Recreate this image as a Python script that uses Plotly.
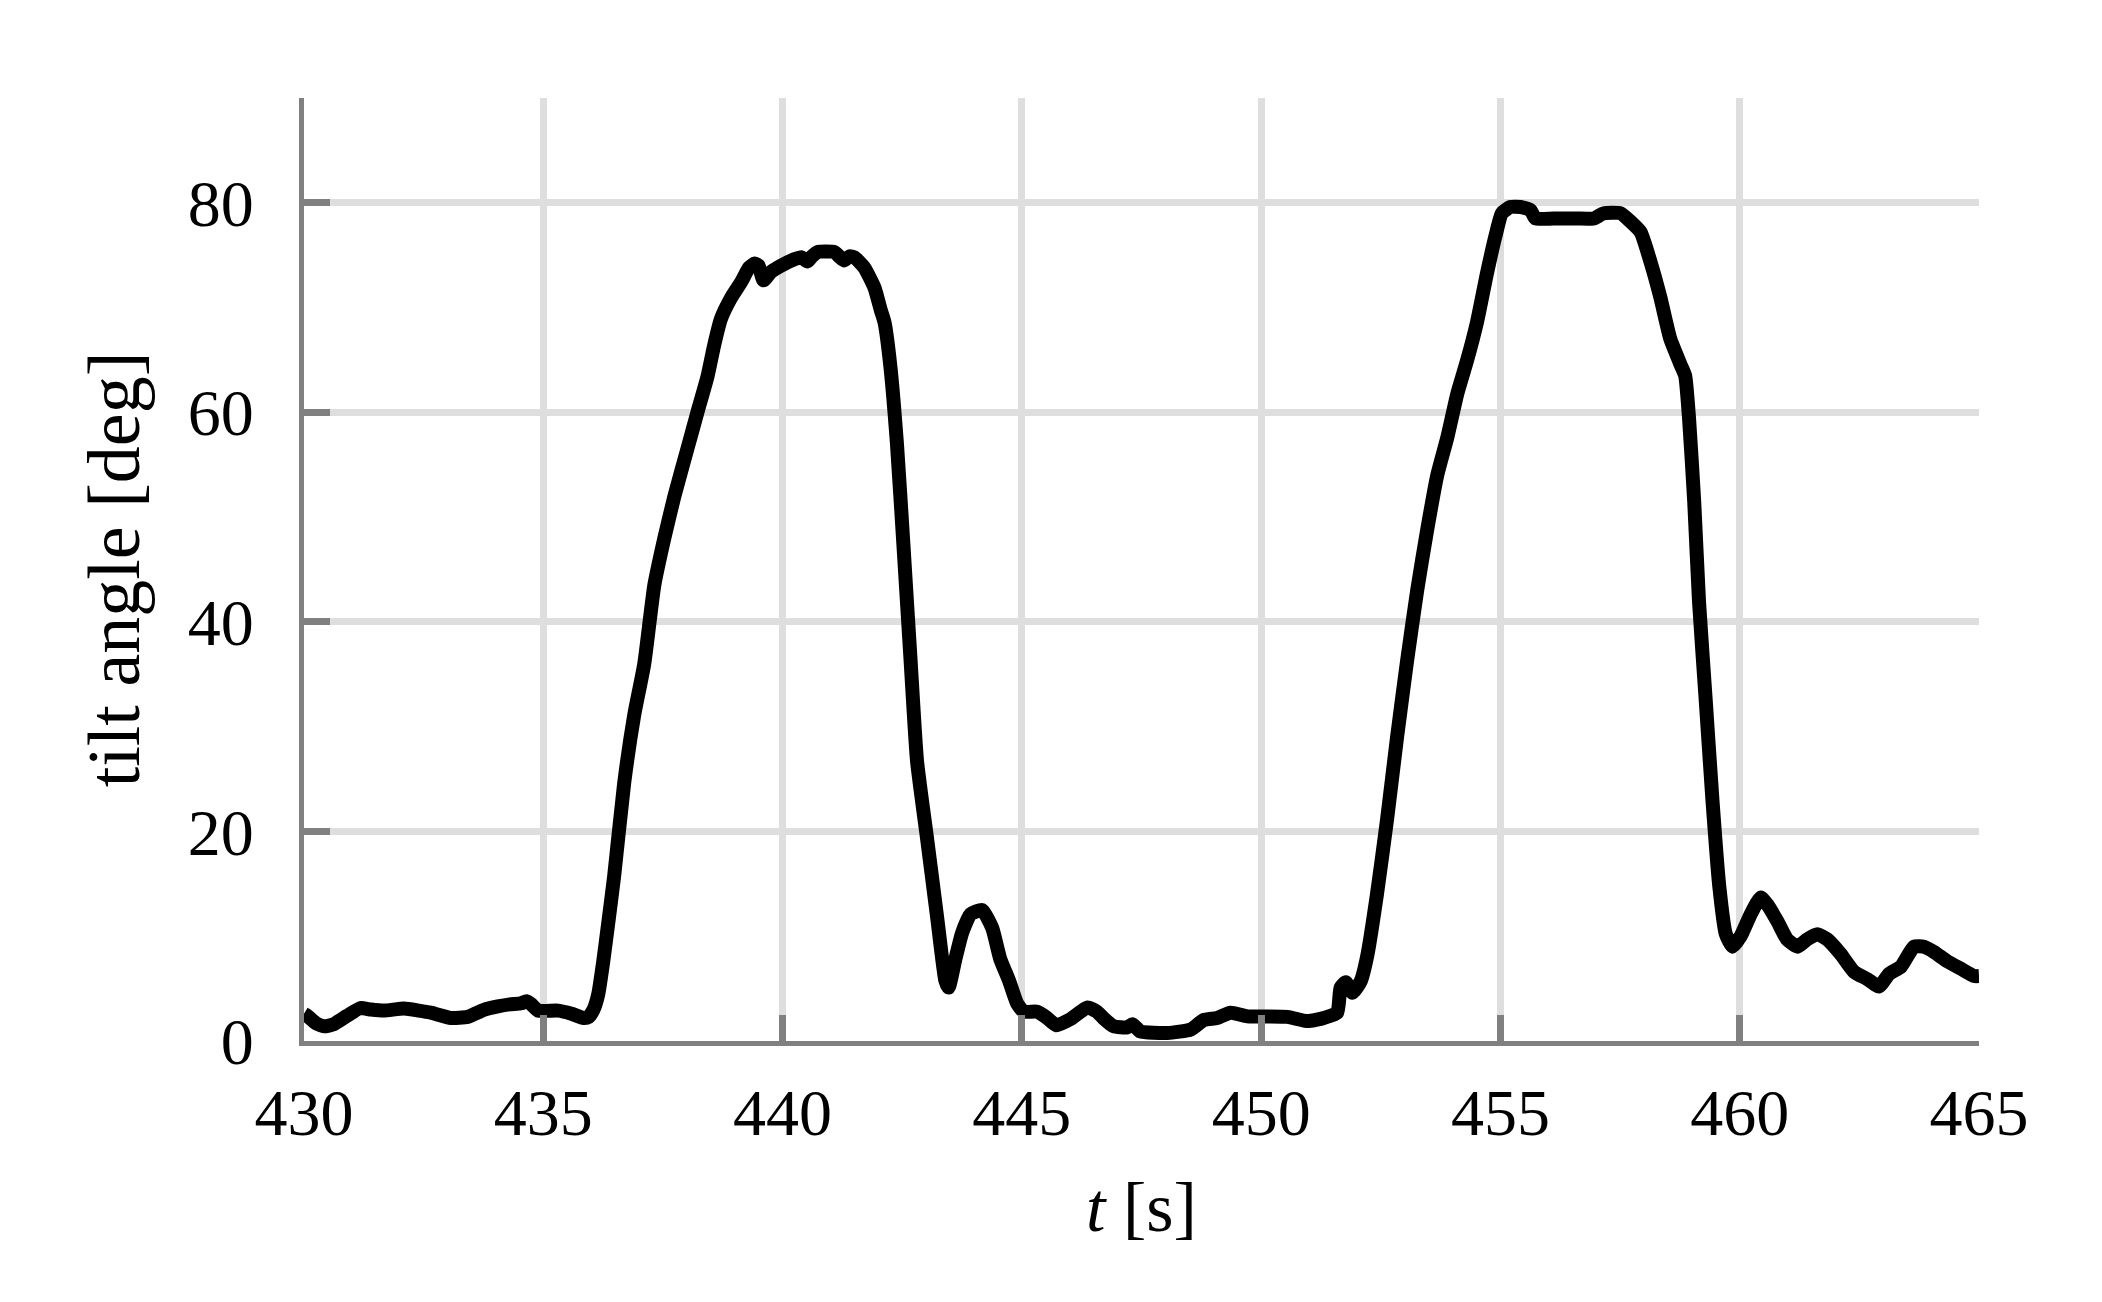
import plotly.graph_objects as go

# time [s]
t_values = [
    430.00, 430.07, 430.25, 430.42, 430.62, 430.90, 431.18, 431.40, 431.67, 432.09,
    432.40, 432.65, 433.07, 433.42, 433.77, 434.05, 434.30, 434.54, 434.65, 434.75,
    434.89, 435.31, 435.59, 435.84, 435.95, 436.05, 436.15, 436.25, 436.35, 436.48,
    436.69, 436.90, 437.11, 437.32, 437.53, 437.74, 438.01, 438.22, 438.43, 438.57,
    438.71, 438.92, 439.13, 439.30, 439.42, 439.50, 439.60, 439.76, 439.97, 440.24,
    440.40, 440.52, 440.62, 440.73, 441.08, 441.20, 441.29, 441.40, 441.50, 441.71,
    441.92, 442.05, 442.13, 442.25, 442.39, 442.53, 442.67, 442.81, 443.02, 443.23,
    443.40, 443.47, 443.61, 443.75, 443.93, 444.17, 444.38, 444.55, 444.73, 444.90,
    445.04, 445.32, 445.50, 445.72, 446.02, 446.37, 446.57, 446.70, 446.92, 447.20,
    447.31, 447.48, 448.04, 448.53, 448.80, 449.08, 449.36, 449.71, 450.13, 450.55,
    450.97, 451.31, 451.59, 451.66, 451.77, 451.91, 452.08, 452.22, 452.42, 452.63,
    452.84, 453.05, 453.26, 453.47, 453.68, 453.89, 454.10, 454.30, 454.51, 454.72,
    454.90, 455.03, 455.21, 455.42, 455.63, 455.73, 456.11, 456.60, 456.95, 457.16,
    457.51, 457.72, 457.93, 458.14, 458.34, 458.55, 458.76, 458.86, 458.94, 459.05,
    459.15, 459.29, 459.43, 459.57, 459.71, 459.85, 460.02, 460.23, 460.44, 460.58,
    460.79, 460.99, 461.21, 461.41, 461.62, 461.83, 462.11, 462.39, 462.67, 462.91,
    463.12, 463.37, 463.64, 463.85, 464.06, 464.34, 464.62, 464.90, 465.00,
]

# tilt angle [deg]
tilt_values = [
    2.6, 2.4, 1.7, 1.4, 1.6, 2.4, 3.15, 3.0, 2.9, 3.1,
    2.9, 2.7, 2.2, 2.3, 3.0, 3.3, 3.5, 3.6, 3.8, 3.5,
    2.9, 2.9, 2.6, 2.2, 2.3, 3.0, 4.5, 7.5, 11.0, 15.7,
    24.6, 31.1, 36.0, 43.5, 48.0, 52.0, 56.5, 60.0, 63.4, 66.4,
    68.9, 70.9, 72.4, 73.8, 74.2, 74.0, 72.6, 73.4, 74.0, 74.6,
    74.8, 74.4, 74.9, 75.3, 75.3, 74.8, 74.5, 74.9, 74.8, 73.8,
    71.9, 69.8, 68.6, 64.5, 57.0, 47.0, 36.7, 26.7, 19.3, 11.8,
    5.8, 5.1, 7.8, 10.3, 12.1, 12.5, 10.8, 7.8, 5.8, 3.6,
    2.8, 2.8, 2.3, 1.5, 2.1, 3.2, 2.8, 2.2, 1.4, 1.3,
    1.6, 0.9, 0.76, 1.1, 2.0, 2.2, 2.7, 2.35, 2.35, 2.3,
    1.9, 2.2, 2.7, 5.1, 5.6, 4.6, 5.7, 8.2, 14.0, 21.1,
    29.0, 36.3, 43.0, 48.8, 54.0, 57.6, 61.8, 64.9, 68.6, 73.3,
    76.9, 79.0, 79.6, 79.6, 79.3, 78.5, 78.5, 78.5, 78.5, 79.0,
    79.0, 78.2, 77.2, 74.3, 71.0, 67.0, 64.6, 63.5, 59.5, 51.4,
    41.9, 32.5, 23.0, 14.9, 10.2, 9.0, 10.0, 12.1, 13.7, 13.0,
    11.4, 9.7, 9.0, 9.7, 10.2, 9.7, 8.3, 6.6, 5.9, 5.2,
    6.4, 7.1, 9.0, 9.0, 8.5, 7.6, 6.9, 6.2, 6.2,
]

x_ticks = [430, 435, 440, 445, 450, 455, 460, 465]
y_ticks = [0, 20, 40, 60, 80]

FONT = "Liberation Serif"
GRID = "#dedede"
AXIS = "#808080"

fig = go.Figure()
fig.add_trace(go.Scatter(
    x=t_values, y=tilt_values, mode="lines",
    line=dict(color="black", width=14, shape="spline", smoothing=0.5),
    showlegend=False, hoverinfo="skip",
))

common = dict(
    showgrid=True, gridcolor=GRID, gridwidth=7,
    showline=True, linecolor=AXIS, linewidth=5,
    ticks="inside", ticklen=26, tickwidth=7, tickcolor=AXIS,
    zeroline=False, automargin=False,
    tickfont=dict(family=FONT, size=66, color="black"),
)

fig.update_xaxes(
    range=[430, 465], tickvals=x_ticks, ticktext=[str(v) for v in x_ticks],
    title=dict(text="<i>t</i> [s]", font=dict(family=FONT, size=70, color="black"), standoff=35),
    ticklabelstandoff=10,
    **common,
)
fig.update_yaxes(
    range=[0, 90], tickvals=y_ticks, ticktext=[str(v) for v in y_ticks],
    title=dict(text="tilt angle [deg]", font=dict(family=FONT, size=74, color="black"), standoff=25),
    ticklabelstandoff=32,
    **common,
)

fig.update_layout(
    width=2094, height=1294,
    margin=dict(l=296, r=123, t=90, b=261),
    paper_bgcolor="white", plot_bgcolor="white",
)

fig.write_html("out.html")
